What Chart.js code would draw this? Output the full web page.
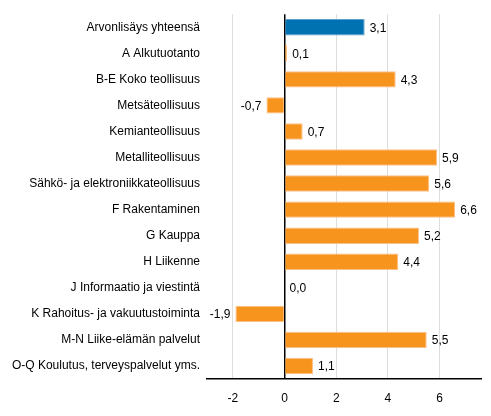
<!DOCTYPE html>
<html>
<head>
<meta charset="utf-8">
<script src="https://cdn.jsdelivr.net/npm/chart.js@4/dist/chart.umd.min.js"></script>
<style>
  html, body { margin: 0; padding: 0; background: #fff; }
  #wrap { width: 491px; height: 416px; }
</style>
</head>
<body>
<div id="wrap"><canvas id="chart"></canvas></div>
<script>
// Toimialat ja muutokset (%)
const categories = [
  "Arvonlisäys yhteensä",
  "A Alkutuotanto",
  "B-E Koko teollisuus",
  "Metsäteollisuus",
  "Kemianteollisuus",
  "Metalliteollisuus",
  "Sähkö- ja elektroniikkateollisuus",
  "F Rakentaminen",
  "G Kauppa",
  "H Liikenne",
  "J Informaatio ja viestintä",
  "K Rahoitus- ja vakuutustoiminta",
  "M-N Liike-elämän palvelut",
  "O-Q Koulutus, terveyspalvelut yms."
];
const values = [3.1, 0.1, 4.3, -0.7, 0.7, 5.9, 5.6, 6.6, 5.2, 4.4, 0.0, -1.9, 5.5, 1.1];
const xTicks = [-2, 0, 2, 4, 6];

const BLUE = "#0072b2", ORANGE = "#f7941e";
const colors = values.map((v, i) => i === 0 ? BLUE : ORANGE);
const borders = values.map((v, i) => i === 0 ? "#5d9fcc" : "#fbc088");

function fi(n) {
  return n.toFixed(1).replace(".", ",");
}

// arvot palkkien viereen
const valueLabels = {
  id: "valueLabels",
  afterDatasetsDraw(chart) {
    const ctx = chart.ctx;
    const meta = chart.getDatasetMeta(0);
    ctx.save();
    ctx.font = "12px 'Liberation Sans', Arial, sans-serif";
    ctx.fillStyle = "#000";
    ctx.textBaseline = "middle";
    meta.data.forEach((bar, i) => {
      const v = values[i];
      if (v < 0) {
        ctx.textAlign = "right";
        ctx.fillText(fi(v), bar.x - 5, bar.y + 1);
      } else {
        ctx.textAlign = "left";
        ctx.fillText(fi(v), bar.x + 5, bar.y + 1);
      }
    });
    ctx.restore();
  }
};

new Chart(document.getElementById("chart"), {
  type: "bar",
  data: {
    labels: categories,
    datasets: [{
      data: values,
      backgroundColor: colors,
      borderColor: borders,
      borderWidth: 1,
      barPercentage: 0.63,
      categoryPercentage: 1
    }]
  },
  options: {
    indexAxis: "y",
    responsive: true,
    maintainAspectRatio: false,
    animation: false,
    layout: { padding: { top: 10, right: 10, left: 0, bottom: 0 } },
    plugins: { legend: { display: false }, tooltip: { enabled: false } },
    scales: {
      x: {
        min: -3,
        max: 7.6,
        afterBuildTicks: s => { s.ticks = xTicks.map(v => ({ value: v })); },
        afterFit: s => { s.height = 37; },
        grid: {
          color: c => c.tick && c.tick.value === 0 ? "#000" : "#dddddd",
          lineWidth: c => c.tick && c.tick.value === 0 ? 1.5 : 1,
          drawTicks: false
        },
        border: { display: true, color: "#000", width: 1.5 },
        ticks: {
          color: "#000",
          padding: 12,
          font: { family: "'Liberation Sans', Arial, sans-serif", size: 12 },
          callback: v => String(v)
        }
      },
      y: {
        afterFit: s => { s.width = 207; },
        grid: { display: false, drawTicks: false },
        border: { display: false },
        ticks: {
          color: "#000",
          padding: 7,
          autoSkip: false,
          font: { family: "'Liberation Sans', Arial, sans-serif", size: 12 }
        }
      }
    }
  },
  plugins: [valueLabels]
});
</script>
</body>
</html>
